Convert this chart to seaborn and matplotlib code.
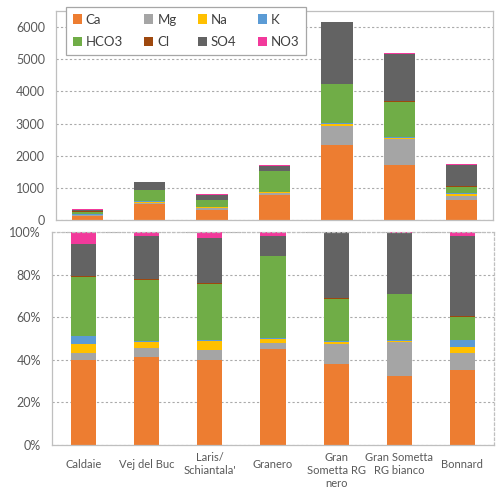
import matplotlib
matplotlib.use("Agg")
import matplotlib.pyplot as plt
import matplotlib.transforms as mtransforms
from matplotlib.patches import Patch
from matplotlib.ticker import FuncFormatter
import seaborn as sns
import pandas as pd

sites = ["Caldaie", "Vej del Buc", "Laris/\nSchiantala'", "Granero",
         "Gran\nSometta RG\nnero", "Gran Sometta\nRG bianco", "Bonnard"]
ions = ["Ca", "Mg", "Na", "K", "HCO3", "Cl", "SO4", "NO3"]

# values, one list per ion (same order as sites)
ca = [133, 493, 324, 774, 2345, 1696, 611]
mg = [12, 49, 38, 50, 585, 817, 133]
na = [14, 33, 31, 31, 49, 31, 52]
k = [12, 7, 5, 7, 31, 26, 54]
hco3 = [92, 342, 212, 659, 1219, 1113, 190]
cl = [2, 4, 6, 2, 6, 10, 5]
so4 = [50, 239, 170, 161, 1908, 1478, 653]
no3 = [19, 24, 22, 33, 12, 31, 29]

colors = {"Ca": "#ED7D31", "Mg": "#A5A5A5", "Na": "#FFC000", "K": "#5B9BD5",
          "HCO3": "#70AD47", "Cl": "#9E480E", "SO4": "#636363", "NO3": "#F2399B"}

df = pd.DataFrame({"Ca": ca, "Mg": mg, "Na": na, "K": k, "HCO3": hco3,
                   "Cl": cl, "SO4": so4, "NO3": no3}, index=sites)
pct = df.div(df.sum(axis=1), axis=0) * 100


def long_cumulative(frame):
    cum = frame.cumsum(axis=1)
    cum.index.name = "site"
    out = cum.reset_index().melt(id_vars="site", var_name="ion", value_name="cum")
    return out


sns.set_style("white")
plt.rcParams["font.family"] = ["Lato", "DejaVu Sans"]
txt = "#595959"
edge = "#BFBFBF"

fig = plt.figure(figsize=(5.0, 4.88), dpi=100)
ax_top = fig.add_axes([0.112, 0.5492, 0.874, 0.4283])
ax_bot = fig.add_axes([0.104, 0.0881, 0.884, 0.4365])

# stacked bars: draw cumulative totals, largest first
sns.barplot(data=long_cumulative(df), x="site", y="cum", hue="ion",
            hue_order=ions[::-1], palette=colors, dodge=False, width=0.5,
            saturation=1, linewidth=0, errorbar=None, legend=False, ax=ax_top)
sns.barplot(data=long_cumulative(pct), x="site", y="cum", hue="ion",
            hue_order=ions[::-1], palette=colors, dodge=False, width=0.4,
            saturation=1, linewidth=0, errorbar=None, legend=False, ax=ax_bot)

ax_top.set_ylim(0, 6500)
ax_top.set_yticks(range(0, 7000, 1000))
ax_bot.set_ylim(0, 100)
ax_bot.set_yticks(range(0, 101, 20))
ax_bot.yaxis.set_major_formatter(FuncFormatter(lambda v, p: f"{v:.0f}%"))

for ax in (ax_top, ax_bot):
    ax.set_xlim(-0.5, len(sites) - 0.5)
    ax.set_xlabel("")
    ax.set_ylabel("")
    ax.set_axisbelow(True)
    ax.yaxis.grid(True, linestyle=(0, (2, 2)), color="#AAAAAA", linewidth=0.8)
    ax.tick_params(axis="both", length=0, colors=txt, labelsize=9, pad=8)
    for s in ax.spines.values():
        s.set_color(edge)
        s.set_linewidth(0.9)

ax_top.set_xticklabels([])
ax_bot.spines["top"].set_linestyle((0, (2, 2)))
ax_bot.spines["right"].set_linestyle((0, (2, 2)))

ax_bot.tick_params(axis="x", labelsize=8, pad=5)
shift = mtransforms.ScaledTranslation(0, -0.07, fig.dpi_scale_trans)
for lbl in ax_bot.get_xticklabels():
    lbl.set_verticalalignment("top")
    lbl.set_multialignment("center")
    if "\n" not in lbl.get_text():
        lbl.set_transform(lbl.get_transform() + shift)

order = ["Ca", "HCO3", "Mg", "Cl", "Na", "SO4", "K", "NO3"]
handles = [Patch(facecolor=colors[i], edgecolor="none", label=i) for i in order]
leg = fig.legend(handles=handles, ncol=4, loc="upper left",
                 bbox_to_anchor=(66 / 500, 1 - 7 / 488), borderaxespad=0,
                 fontsize=9.5, frameon=True, fancybox=False, framealpha=1,
                 handlelength=0.7, handleheight=0.7, handletextpad=0.3,
                 columnspacing=1.6, labelspacing=0.8, borderpad=0.5)
leg.get_frame().set_edgecolor("#A6A6A6")
leg.get_frame().set_linewidth(0.9)
for t in leg.get_texts():
    t.set_color("#404040")

fig.savefig("out.png", dpi=100)
